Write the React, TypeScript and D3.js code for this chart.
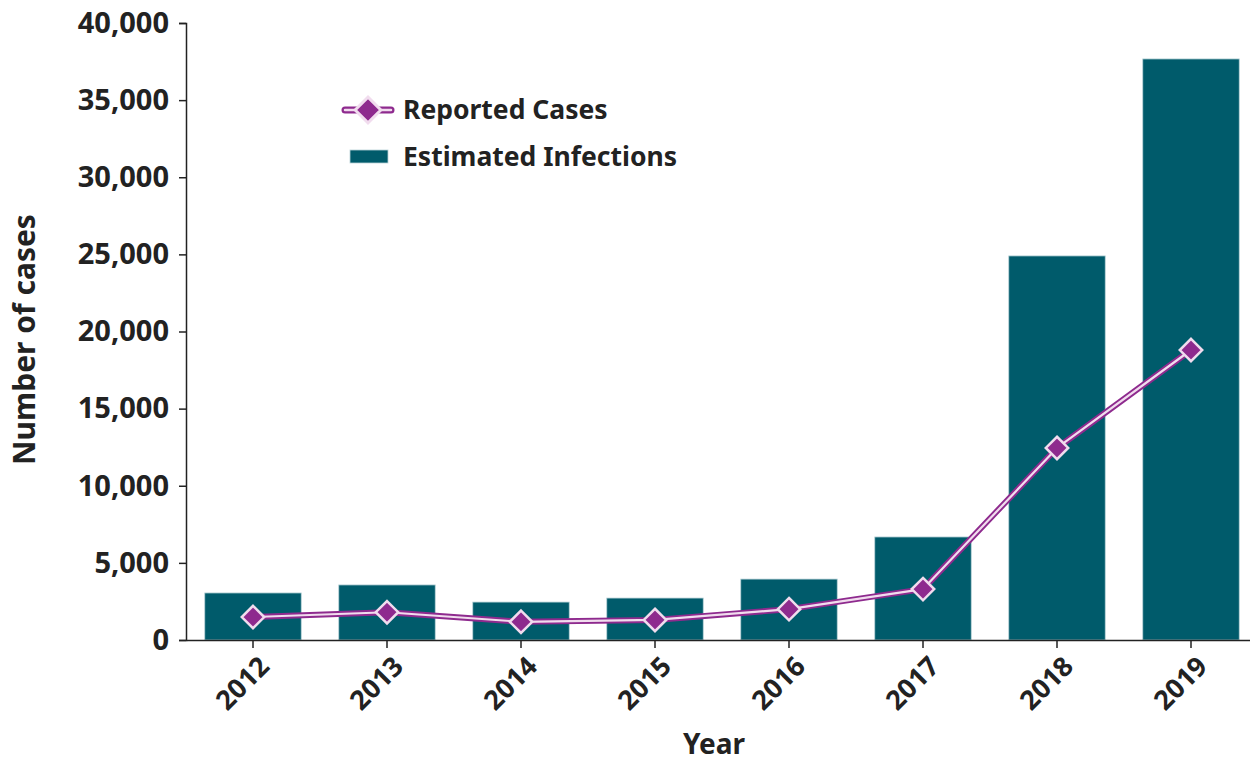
import * as d3 from 'd3';
import { useRef, useEffect } from 'react';

const years = ['2012', '2013', '2014', '2015', '2016', '2017', '2018', '2019'];
const estimatedInfections = [3050, 3570, 2460, 2720, 3950, 6680, 24900, 37670];
const reportedCases = [1490, 1800, 1180, 1300, 2000, 3300, 12450, 18800];
const yTicks = [0, 5000, 10000, 15000, 20000, 25000, 30000, 35000, 40000];

const FONT = '"Noto Sans", "Open Sans", sans-serif';
const TEAL = '#005b6b';
const PURPLE = '#8e2a8e';
const PINK = '#f1dcee';

export default function App() {
  const svgRef = useRef<SVGSVGElement | null>(null);

  useEffect(() => {
    const width = 1250;
    const height = 763;
    const margin = { top: 23, right: 0, bottom: 123, left: 186 };
    const innerWidth = 1258 - margin.left;
    const innerHeight = height - margin.top - margin.bottom;

    d3.select(svgRef.current).selectAll('*').remove();

    const root = d3
      .select(svgRef.current)
      .attr('width', width)
      .attr('height', height)
      .style('font-family', FONT);

    const svg = root.append('g').attr('transform', `translate(${margin.left},${margin.top})`);

    const x = d3.scaleBand<string>().domain(years).range([0, innerWidth]).paddingInner(0.28).paddingOuter(0.14);
    const y = d3.scaleLinear().domain([0, 40000]).range([innerHeight, 0]);

    // Barras
    svg
      .selectAll('rect.bar')
      .data(years)
      .join('rect')
      .attr('class', 'bar')
      .attr('x', (d) => x(d)!)
      .attr('y', (_, i) => y(estimatedInfections[i]))
      .attr('width', x.bandwidth())
      .attr('height', (_, i) => innerHeight - y(estimatedInfections[i]))
      .attr('fill', TEAL)
      .attr('stroke', '#b9d3d8')
      .attr('stroke-width', 0.8);

    // Eje Y
    const yAxis = svg
      .append('g')
      .call(d3.axisLeft(y).tickValues(yTicks).tickFormat(d3.format(',')).tickSize(7).tickPadding(10));
    yAxis.select('.domain').attr('stroke', '#222').attr('stroke-width', 1.5);
    yAxis.selectAll('.tick line').attr('stroke', '#222').attr('stroke-width', 1.5);
    yAxis
      .selectAll('.tick text')
      .attr('font-family', FONT)
      .attr('font-size', 29)
      .attr('font-weight', 700)
      .attr('fill', '#222');

    // Eje X
    const xAxis = svg
      .append('g')
      .attr('transform', `translate(0,${innerHeight})`)
      .call(d3.axisBottom(x).tickSize(8).tickSizeOuter(0));
    xAxis.select('.domain').attr('stroke', '#222').attr('stroke-width', 1.5);
    xAxis.selectAll('.tick line').attr('stroke', '#222').attr('stroke-width', 1.5);
    xAxis
      .selectAll('.tick text')
      .attr('font-family', FONT)
      .attr('font-size', 27)
      .attr('font-weight', 700)
      .attr('fill', '#222')
      .attr('text-anchor', 'end')
      .attr('dy', null)
      .attr('y', null)
      .attr('transform', 'translate(18,28) rotate(-45)');

    // Línea de casos reportados
    const line = d3
      .line<number>()
      .x((_, i) => x(years[i])! + x.bandwidth() / 2)
      .y((d) => y(d));

    svg
      .append('path')
      .datum(reportedCases)
      .attr('d', line)
      .attr('fill', 'none')
      .attr('stroke', PURPLE)
      .attr('stroke-width', 6)
      .attr('stroke-linejoin', 'round');
    svg
      .append('path')
      .datum(reportedCases)
      .attr('d', line)
      .attr('fill', 'none')
      .attr('stroke', PINK)
      .attr('stroke-width', 2.2)
      .attr('stroke-linejoin', 'round');

    const diamond = d3.symbol().type(d3.symbolDiamond2).size(320);
    svg
      .selectAll('path.marker')
      .data(reportedCases)
      .join('path')
      .attr('class', 'marker')
      .attr('d', diamond)
      .attr('transform', (d, i) => `translate(${x(years[i])! + x.bandwidth() / 2},${y(d)})`)
      .attr('fill', PURPLE)
      .attr('stroke', PINK)
      .attr('stroke-width', 2.5);

    // Títulos de ejes
    root
      .append('text')
      .attr('transform', `translate(35,${margin.top + innerHeight / 2 + 8}) rotate(-90)`)
      .attr('text-anchor', 'middle')
      .attr('font-size', 30)
      .attr('font-weight', 700)
      .attr('fill', '#222')
      .text('Number of cases');

    root
      .append('text')
      .attr('x', 714)
      .attr('y', 754)
      .attr('text-anchor', 'middle')
      .attr('font-size', 28)
      .attr('font-weight', 700)
      .attr('fill', '#222')
      .text('Year');

    // Leyenda
    const legend = root.append('g');
    legend
      .append('line')
      .attr('x1', 345)
      .attr('x2', 391)
      .attr('y1', 110)
      .attr('y2', 110)
      .attr('stroke', PURPLE)
      .attr('stroke-width', 7)
      .attr('stroke-linecap', 'round');
    legend
      .append('line')
      .attr('x1', 345)
      .attr('x2', 391)
      .attr('y1', 110)
      .attr('y2', 110)
      .attr('stroke', PINK)
      .attr('stroke-width', 2.5)
      .attr('stroke-linecap', 'round');
    legend
      .append('path')
      .attr('d', d3.symbol().type(d3.symbolDiamond2).size(420))
      .attr('transform', 'translate(368,110)')
      .attr('fill', PURPLE)
      .attr('stroke', PINK)
      .attr('stroke-width', 3);
    legend
      .append('text')
      .attr('x', 403)
      .attr('y', 119)
      .attr('font-size', 26.5)
      .attr('font-weight', 700)
      .attr('fill', '#222')
      .text('Reported Cases');

    legend
      .append('rect')
      .attr('x', 350)
      .attr('y', 150)
      .attr('width', 38)
      .attr('height', 13)
      .attr('fill', TEAL)
      .attr('stroke', '#b9d3d8')
      .attr('stroke-width', 0.8);
    legend
      .append('text')
      .attr('x', 403)
      .attr('y', 166)
      .attr('font-size', 26.5)
      .attr('font-weight', 700)
      .attr('fill', '#222')
      .text('Estimated Infections');
  }, []);

  return (
    <div style={{ position: 'absolute', left: 0, top: 0 }}>
      <svg ref={svgRef} />
    </div>
  );
}
